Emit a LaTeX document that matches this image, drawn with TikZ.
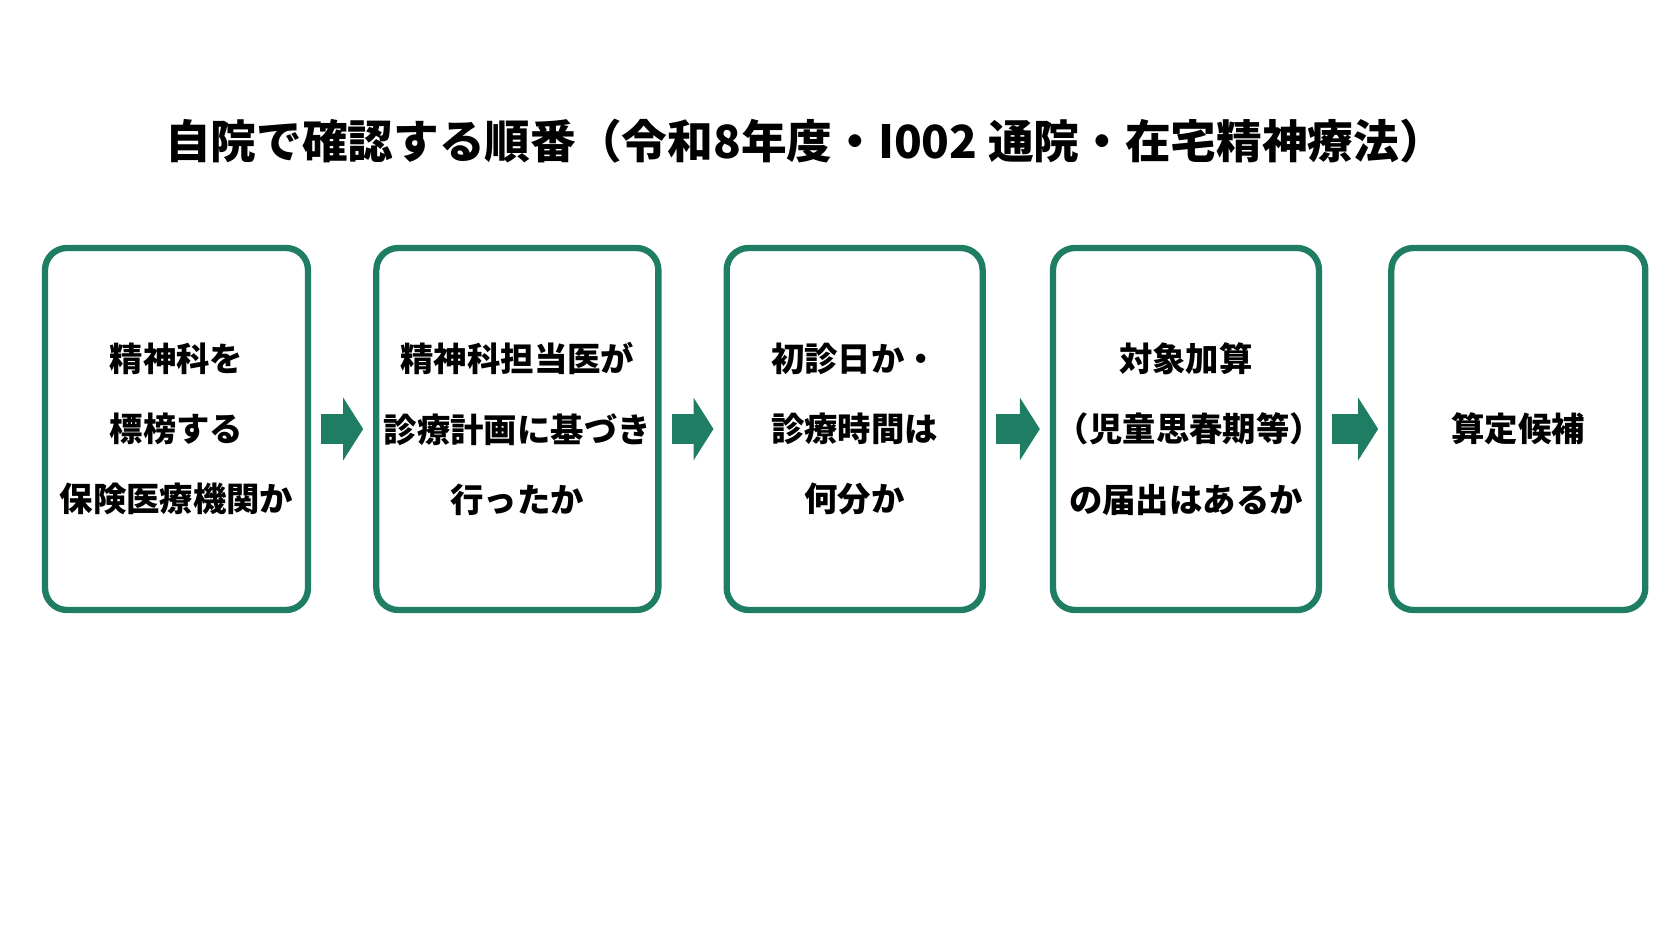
\documentclass[tikz,border=0pt]{standalone}
\usepackage{fontspec}
\setmainfont{Noto Sans CJK JP}
\usetikzlibrary{positioning,arrows.meta}
\definecolor{stepgreen}{HTML}{1E7D62}
\begin{document}
\begin{tikzpicture}
	[font=\bfseries,
	%Styles
	stage/.style={draw=stepgreen,line width=1.8pt,rounded corners=0.22cm,fill=white,
		minimum height=3.62cm,inner sep=0pt,align=center,
		font=\bfseries\fontsize{9.5}{20}\selectfont},
	flow/.style={stepgreen,line width=0.3cm,shorten <=0.1cm,shorten >=0.1cm,
		-{Triangle[length=0.2cm,width=0.62cm]}}
	]
	\useasboundingbox (0,0) rectangle (16.72,9.41);

	%Title
	\node[font=\bfseries\fontsize{13}{16}\selectfont] (title) at (8.05,8.0)
		{自院で確認する順番（令和8年度・I002 通院・在宅精神療法）};

	%The stages
	\node[stage,minimum width=2.63cm,text width=2.6cm] (check) at (1.765,5.12) {精神科を\\標榜する\\保険医療機関か};
	\node[stage,minimum width=2.82cm,text width=2.8cm,right=0.62cm of check] (plan) {精神科担当医が\\診療計画に基づき\\行ったか};
	\node[stage,minimum width=2.56cm,text width=2.5cm,right=0.62cm of plan] (time) {初診日か・\\診療時間は\\何分か};
	\node[stage,minimum width=2.66cm,text width=2.6cm,right=0.64cm of time] (addon) {対象加算\\（児童思春期等）\\の届出はあるか};
	\node[stage,minimum width=2.54cm,text width=2.5cm,right=0.66cm of addon] (result) {算定候補};

	\draw[flow] (check.east) -- (plan.west);
	\draw[flow] (plan.east) -- (time.west);
	\draw[flow] (time.east) -- (addon.west);
	\draw[flow] (addon.east) -- (result.west);
\end{tikzpicture}
\end{document}
